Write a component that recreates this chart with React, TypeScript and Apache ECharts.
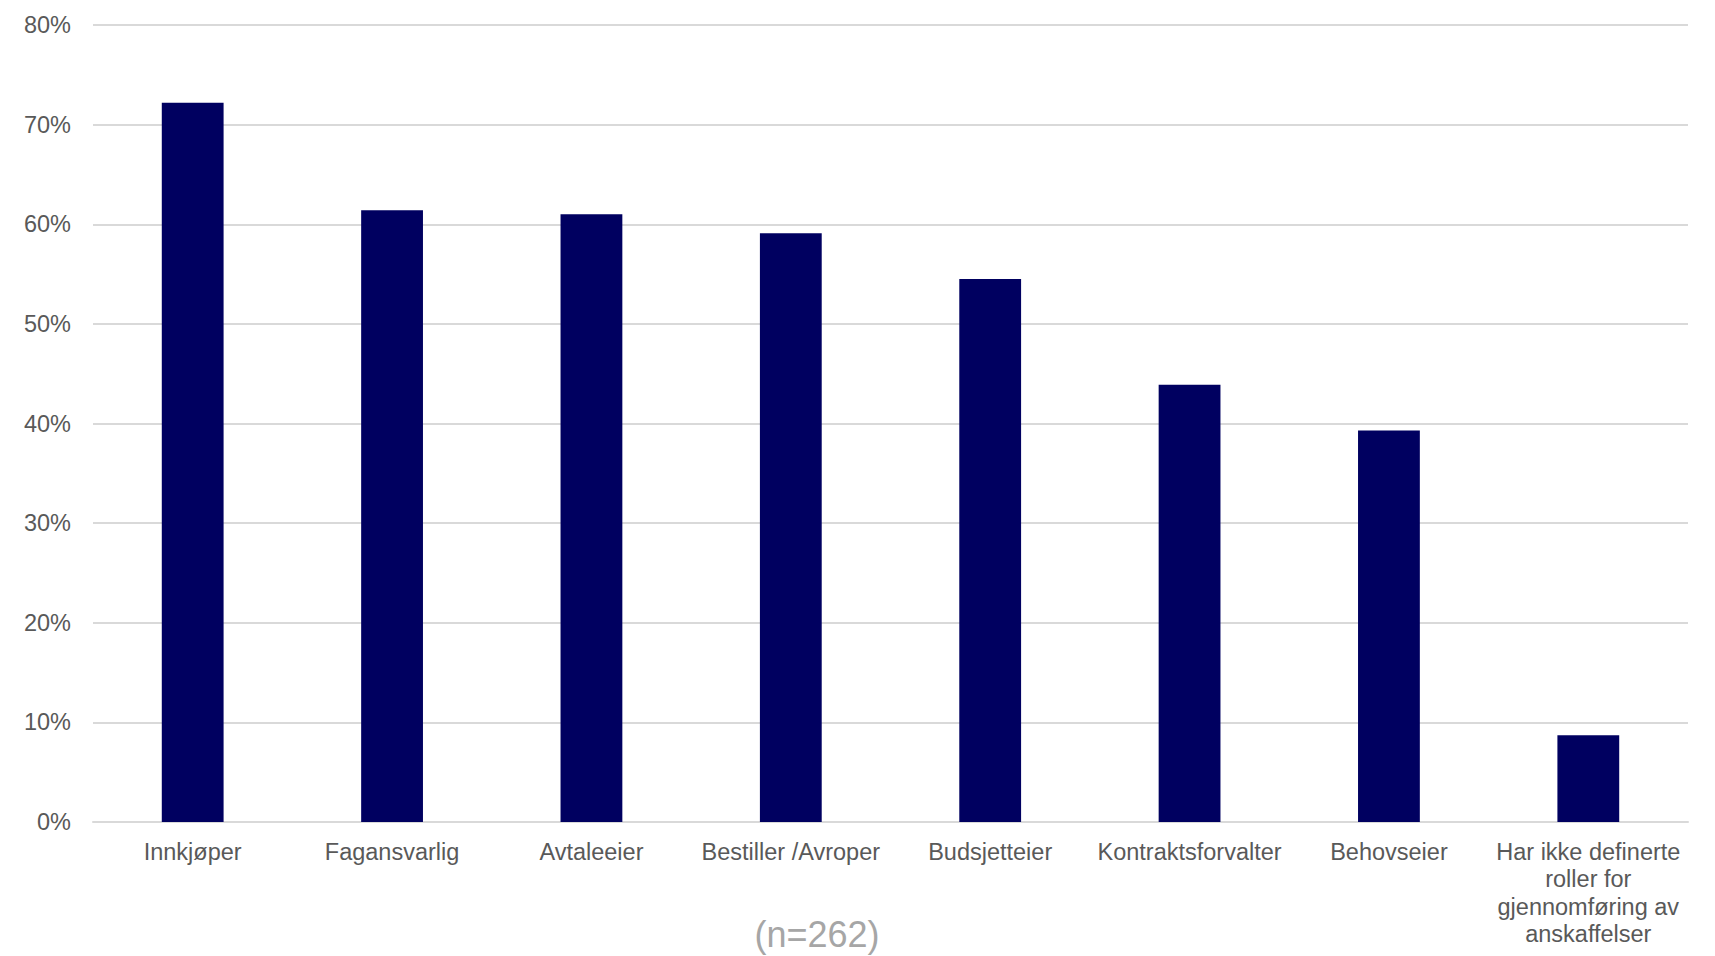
import React, { useEffect, useRef } from "react";
import * as echarts from "echarts";

const categories = [
  "Innkjøper",
  "Fagansvarlig",
  "Avtaleeier",
  "Bestiller /Avroper",
  "Budsjetteier",
  "Kontraktsforvalter",
  "Behovseier",
  "Har ikke definerte\nroller for\ngjennomføring av\nanskaffelser",
];
const values = [72.2, 61.4, 61.0, 59.1, 54.5, 43.9, 39.3, 8.7];
const yTicks = { min: 0, max: 80, interval: 10 };
const noteText = "(n=262)";

const FONT = "'Liberation Sans', Arial, sans-serif";

export default function App() {
  const ref = useRef<HTMLDivElement>(null);
  useEffect(() => {
    document.body.style.margin = "0";
    const chart = echarts.init(ref.current!, null, { renderer: "svg" });
    chart.setOption({
      animation: false,
      backgroundColor: "#ffffff",
      textStyle: { fontFamily: FONT },
      grid: { left: 93, right: 27, top: 25, bottom: 134, containLabel: false },
      xAxis: {
        type: "category",
        data: categories,
        axisLine: { show: true, lineStyle: { color: "#d9d9d9", width: 2 } },
        axisTick: { show: false },
        axisLabel: {
          color: "#595959",
          fontSize: 23.5,
          fontFamily: FONT,
          margin: 16,
          lineHeight: 27.5,
          interval: 0,
          align: "center",
        },
      },
      yAxis: {
        type: "value",
        min: yTicks.min,
        max: yTicks.max,
        interval: yTicks.interval,
        axisLine: { show: false },
        axisTick: { show: false },
        splitLine: { lineStyle: { color: "#d9d9d9", width: 2 } },
        axisLabel: {
          color: "#595959",
          fontSize: 23.5,
          fontFamily: FONT,
          margin: 22,
          formatter: "{value}%",
        },
      },
      series: [
        {
          type: "bar",
          data: values,
          barWidth: "31%",
          itemStyle: { color: "#000060" },
        },
      ],
      graphic: [
        {
          type: "text",
          x: 817,
          y: 934,
          style: {
            text: noteText,
            fill: "#a6a6a6",
            font: `36px ${FONT}`,
            textAlign: "center",
            textVerticalAlign: "middle",
          },
        },
      ],
    });
    return () => chart.dispose();
  }, []);
  return <div ref={ref} style={{ width: 1715, height: 956 }} />;
}
